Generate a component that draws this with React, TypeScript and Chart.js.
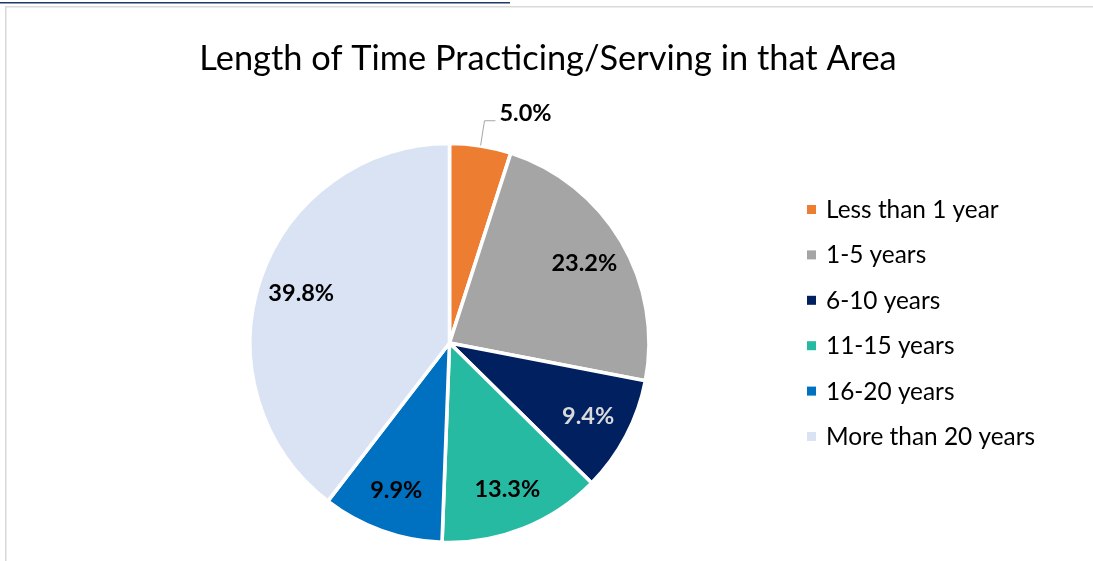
import React, { useEffect, useRef } from 'react';
import { Chart, registerables } from 'chart.js';

Chart.register(...registerables);

const title = 'Length of Time Practicing/Serving in that Area';
const categories = ['Less than 1 year', '1-5 years', '6-10 years', '11-15 years', '16-20 years', 'More than 20 years'];
const values = [5.0, 23.2, 9.4, 13.3, 9.9, 39.8];
const valueLabels = ['5.0%', '23.2%', '9.4%', '13.3%', '9.9%', '39.8%'];
const colors = ['#ED7D31', '#A5A5A5', '#002060', '#26BAA3', '#0070C0', '#DAE3F3'];
const labelColors = ['#000000', '#000000', '#D9D9D9', '#000000', '#000000', '#000000'];

const FONT = 'Lato, "Open Sans", sans-serif';

const decorPlugin = {
  id: 'decor',
  beforeDraw(chart: any) {
    const ctx = chart.ctx;
    ctx.save();
    ctx.fillStyle = '#ffffff';
    ctx.fillRect(0, 0, chart.width, chart.height);
    // top underline from page above
    ctx.strokeStyle = '#1F3864';
    ctx.lineWidth = 1.5;
    ctx.beginPath();
    ctx.moveTo(0, 2.75);
    ctx.lineTo(510, 2.75);
    ctx.stroke();
    // chart frame
    ctx.strokeStyle = '#D9D9D9';
    ctx.lineWidth = 1.5;
    ctx.beginPath();
    ctx.moveTo(5.75, chart.height + 5);
    ctx.lineTo(5.75, 6.75);
    ctx.lineTo(chart.width + 5, 6.75);
    ctx.stroke();
    // title
    ctx.fillStyle = '#000000';
    ctx.font = `34.4px ${FONT}`;
    ctx.textAlign = 'center';
    ctx.textBaseline = 'alphabetic';
    ctx.fillText(title, 548, 70);
    ctx.restore();
  },
  afterDraw(chart: any) {
    const ctx = chart.ctx;
    const meta = chart.getDatasetMeta(0);
    const ds = chart.data.datasets[0];
    ctx.save();
    // data labels
    meta.data.forEach((arc: any, i: number) => {
      const p = arc.getProps(['x', 'y', 'startAngle', 'endAngle', 'outerRadius'], true);
      const mid = (p.startAngle + p.endAngle) / 2;
      const cos = Math.cos(mid);
      const sin = Math.sin(mid);
      ctx.font = `bold 23.5px ${FONT}`;
      ctx.fillStyle = labelColors[i];
      const text = valueLabels[i];
      if (ds.data[i] < 6) {
        const r = p.outerRadius;
        const sx = p.x + cos * (r + 0.5);
        const sy = p.y + sin * (r + 0.5);
        const ex = p.x + cos * (r + 25.5);
        const ey = p.y + sin * (r + 25.5);
        ctx.strokeStyle = '#A6A6A6';
        ctx.lineWidth = 1;
        ctx.beginPath();
        ctx.moveTo(sx, sy);
        ctx.lineTo(ex, ey);
        ctx.lineTo(ex + 11, ey);
        ctx.stroke();
        ctx.textAlign = 'left';
        ctx.textBaseline = 'alphabetic';
        ctx.fillText(text, ex + 15, ey + 0.5);
      } else {
        const d = p.outerRadius * 0.785;
        const cx = p.x + cos * d;
        const cy = p.y + sin * d;
        ctx.textAlign = 'center';
        ctx.textBaseline = 'alphabetic';
        ctx.fillText(text, cx, cy + 8);
      }
    });
    // legend
    const lx = 807;
    const ly = 209.5;
    const step = 45.4;
    chart.data.labels.forEach((lab: string, i: number) => {
      const cy = ly + i * step;
      ctx.fillStyle = colors[i];
      ctx.fillRect(lx, cy - 4.5, 9, 9);
      ctx.fillStyle = '#000000';
      ctx.font = `24.4px ${FONT}`;
      ctx.textAlign = 'left';
      ctx.textBaseline = 'alphabetic';
      ctx.fillText(lab, 826, cy + 8.5);
    });
    ctx.restore();
  },
};

export default function App() {
  const ref = useRef<HTMLCanvasElement | null>(null);
  useEffect(() => {
    document.body.style.margin = '0';
    if (!ref.current) return;
    const chart = new Chart(ref.current, {
      type: 'pie',
      data: {
        labels: categories,
        datasets: [
          {
            data: values,
            backgroundColor: colors,
            borderColor: '#ffffff',
            borderWidth: 3.6,
            hoverOffset: 0,
          },
        ],
      },
      options: {
        responsive: false,
        animation: false,
        devicePixelRatio: 1,
        radius: 199.5,
        layout: { padding: { left: 250, right: 1093 - 649, top: 144, bottom: 561 - 542 } },
        plugins: {
          legend: { display: false },
          title: { display: false },
          tooltip: { enabled: false },
        },
        events: [],
      } as any,
      plugins: [decorPlugin],
    });
    return () => chart.destroy();
  }, []);
  return (
    <div style={{ position: 'absolute', left: 0, top: 0, width: 1093, height: 561 }}>
      <canvas ref={ref} width={1093} height={561} style={{ display: 'block' }} />
    </div>
  );
}
